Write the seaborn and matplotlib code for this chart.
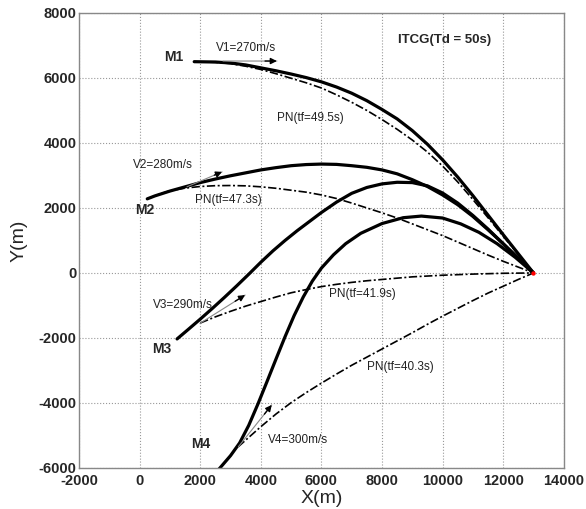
import matplotlib
matplotlib.use("Agg")
import matplotlib.pyplot as plt
import seaborn as sns

# ---- data ----
m1_itcg_x = [1800, 2500, 3000, 3500, 4000, 4500, 5000, 5500, 6000, 6500, 7000, 7500, 8000, 8500, 9000, 9500, 10000, 10500, 11000, 11500, 12000, 12500, 13000]
m1_itcg_y = [6500, 6490, 6460, 6400, 6310, 6220, 6120, 6010, 5880, 5720, 5530, 5300, 5030, 4740, 4380, 3960, 3480, 2950, 2380, 1780, 1180, 590, 0]
m1_pn_x = [1800, 2500, 3000, 3500, 4000, 4500, 5000, 5500, 6000, 6500, 7000, 7500, 8000, 8500, 9000, 9500, 10000, 10500, 11000, 11500, 12000, 12500, 13000]
m1_pn_y = [6500, 6480, 6440, 6360, 6260, 6130, 5990, 5850, 5690, 5480, 5250, 5000, 4720, 4420, 4090, 3720, 3290, 2800, 2260, 1700, 1130, 565, 0]

m2_itcg_x = [250, 500, 1000, 1500, 2000, 2500, 3000, 3500, 4000, 4500, 5000, 5500, 6000, 6500, 7000, 7500, 8000, 8500, 9000, 9500, 10000, 10500, 11000, 11500, 12000, 12500, 13000]
m2_itcg_y = [2280, 2370, 2520, 2650, 2780, 2890, 2990, 3080, 3170, 3240, 3300, 3335, 3350, 3340, 3300, 3250, 3170, 3050, 2870, 2660, 2400, 2100, 1740, 1330, 900, 450, 0]
m2_pn_x = [250, 700, 1000, 1500, 2000, 2500, 3000, 3500, 4000, 4500, 5000, 5500, 6000, 6500, 7000, 7500, 8000, 8500, 9000, 9500, 10000, 10500, 11000, 11500, 12000, 12500, 13000]
m2_pn_y = [2280, 2440, 2530, 2610, 2660, 2685, 2690, 2680, 2650, 2605, 2545, 2485, 2400, 2290, 2150, 2000, 1850, 1690, 1510, 1330, 1150, 950, 750, 550, 360, 180, 0]

m3_itcg_x = [1234, 1600, 2000, 2400, 2800, 3200, 3600, 4000, 4400, 4800, 5200, 5600, 6000, 6500, 7000, 7500, 8000, 8500, 9000, 9500, 10000, 10500, 11000, 11500, 12000, 12500, 13000]
m3_itcg_y = [-2030, -1740, -1420, -1090, -750, -400, -40, 330, 680, 1000, 1300, 1580, 1860, 2180, 2450, 2630, 2740, 2790, 2780, 2680, 2460, 2150, 1770, 1350, 900, 450, 0]
m3_pn_x = [2000, 2500, 3000, 3500, 4000, 4500, 5000, 5500, 6000, 6500, 7000, 7500, 8000, 9000, 10000, 11000, 12000, 13000]
m3_pn_y = [-1540, -1350, -1180, -1020, -880, -740, -610, -510, -420, -350, -290, -240, -200, -120, -70, -35, -10, 0]

m4_itcg_x = [2500, 2650, 3000, 3300, 3600, 3900, 4200, 4500, 4800, 5100, 5400, 5700, 6000, 6400, 6800, 7300, 8000, 8700, 9300, 10000, 10600, 11200, 11800, 12400, 13000]
m4_itcg_y = [-6150, -6000, -5620, -5230, -4690, -4040, -3350, -2650, -1960, -1310, -740, -250, 150, 560, 900, 1220, 1520, 1700, 1750, 1690, 1510, 1250, 900, 480, 0]
m4_pn_x = [3250, 3600, 4000, 4500, 5000, 5500, 6000, 6500, 7000, 7500, 8000, 8500, 9000, 9500, 10000, 10500, 11000, 11500, 12000, 12500, 13000]
m4_pn_y = [-5350, -5060, -4730, -4340, -3990, -3680, -3390, -3110, -2840, -2590, -2340, -2090, -1840, -1580, -1330, -1090, -850, -620, -410, -200, 0]

target_x = [13000]
target_y = [0]

# velocity arrows: start and end points
arrow_x0 = [2750, 1560, 1990, 3260]
arrow_y0 = [6520, 2650, -1550, -5345]
arrow_x1 = [4530, 2720, 3480, 4360]
arrow_y1 = [6520, 3110, -680, -4060]

x_ticks = [-2000, 0, 2000, 4000, 6000, 8000, 10000, 12000, 14000]
y_ticks = [-6000, -4000, -2000, 0, 2000, 4000, 6000, 8000]

# ---- plotting ----
sns.set_style("whitegrid")
plt.rcParams['font.family'] = ['Liberation Sans', 'DejaVu Sans']

fig = plt.figure(figsize=(5.86, 5.09), dpi=100)
ax = fig.add_axes([0.135, 0.0806, 0.827, 0.894])

solid_kw = dict(color="black", linewidth=2.3, sort=False, estimator=None, ax=ax)
pn_kw = dict(color="black", linewidth=1.2, sort=False, estimator=None, ax=ax)

for xs, ys in [(m1_pn_x, m1_pn_y), (m2_pn_x, m2_pn_y), (m3_pn_x, m3_pn_y), (m4_pn_x, m4_pn_y)]:
    l = sns.lineplot(x=xs, y=ys, **pn_kw).lines[-1]
    l.set_dashes([5, 1.5, 1.2, 1.5])

for xs, ys in [(m1_itcg_x, m1_itcg_y), (m2_itcg_x, m2_itcg_y), (m3_itcg_x, m3_itcg_y), (m4_itcg_x, m4_itcg_y)]:
    l = sns.lineplot(x=xs, y=ys, **solid_kw).lines[-1]
    l.set_solid_capstyle("round")
    l.set_solid_joinstyle("round")

sns.scatterplot(x=target_x, y=target_y, color="red", s=10, linewidth=0, ax=ax, zorder=5)

# velocity arrows: thin gray shaft, black head
for x0, y0, x1, y1 in zip(arrow_x0, arrow_y0, arrow_x1, arrow_y1):
    ax.annotate("", xy=(x1, y1), xytext=(x0, y0),
                arrowprops=dict(arrowstyle="-", color="#888888", lw=0.8,
                                shrinkA=0, shrinkB=0))
    hx = x1 - 0.22 * (x1 - x0)
    hy = y1 - 0.22 * (y1 - y0)
    ax.annotate("", xy=(x1, y1), xytext=(hx, hy),
                arrowprops=dict(arrowstyle="-|>", color="black", lw=1.0,
                                mutation_scale=9, shrinkA=0, shrinkB=0))

# labels
bold = dict(fontsize=10, fontweight="bold", ha="center", va="center")
norm = dict(fontsize=8.5, ha="center", va="center", color="#222222")
ax.text(1135, 6650, "M1", **bold)
ax.text(150, 1930, "M2", **bold)
ax.text(740, -2340, "M3", **bold)
ax.text(2030, -5260, "M4", **bold)
ax.text(3500, 6930, "V1=270m/s", **norm)
ax.text(780, 3320, "V2=280m/s", **norm)
ax.text(1430, -985, "V3=290m/s", **norm)
ax.text(5230, -5140, "V4=300m/s", **norm)
ax.text(5620, 4760, "PN(tf=49.5s)", **norm)
ax.text(2920, 2250, "PN(tf=47.3s)", **norm)
ax.text(7340, -650, "PN(tf=41.9s)", **norm)
ax.text(8620, -2890, "PN(tf=40.3s)", **norm)
ax.text(10080, 7170, "ITCG(Td = 50s)", fontsize=9.5, fontweight="bold", ha="center", va="center")

ax.set_xlim(-2000, 14000)
ax.set_ylim(-6000, 8000)
ax.set_xticks(x_ticks)
ax.set_yticks(y_ticks)
ax.set_xticklabels([str(v) for v in x_ticks], fontweight="bold", fontsize=10.5)
ax.set_yticklabels([str(v) for v in y_ticks], fontweight="bold", fontsize=10.5)
ax.tick_params(axis="x", length=0, pad=4)
ax.tick_params(axis="y", length=0, pad=2)
ax.set_xlabel("X(m)", fontsize=14, labelpad=2)
ax.set_ylabel("Y(m)", fontsize=14, labelpad=8)
ax.grid(True, linestyle=":", color="#999999", linewidth=0.8)
for s in ax.spines.values():
    s.set_color("#888888")
    s.set_linewidth(1.0)
    s.set_visible(True)

fig.savefig("out.png", dpi=100)
